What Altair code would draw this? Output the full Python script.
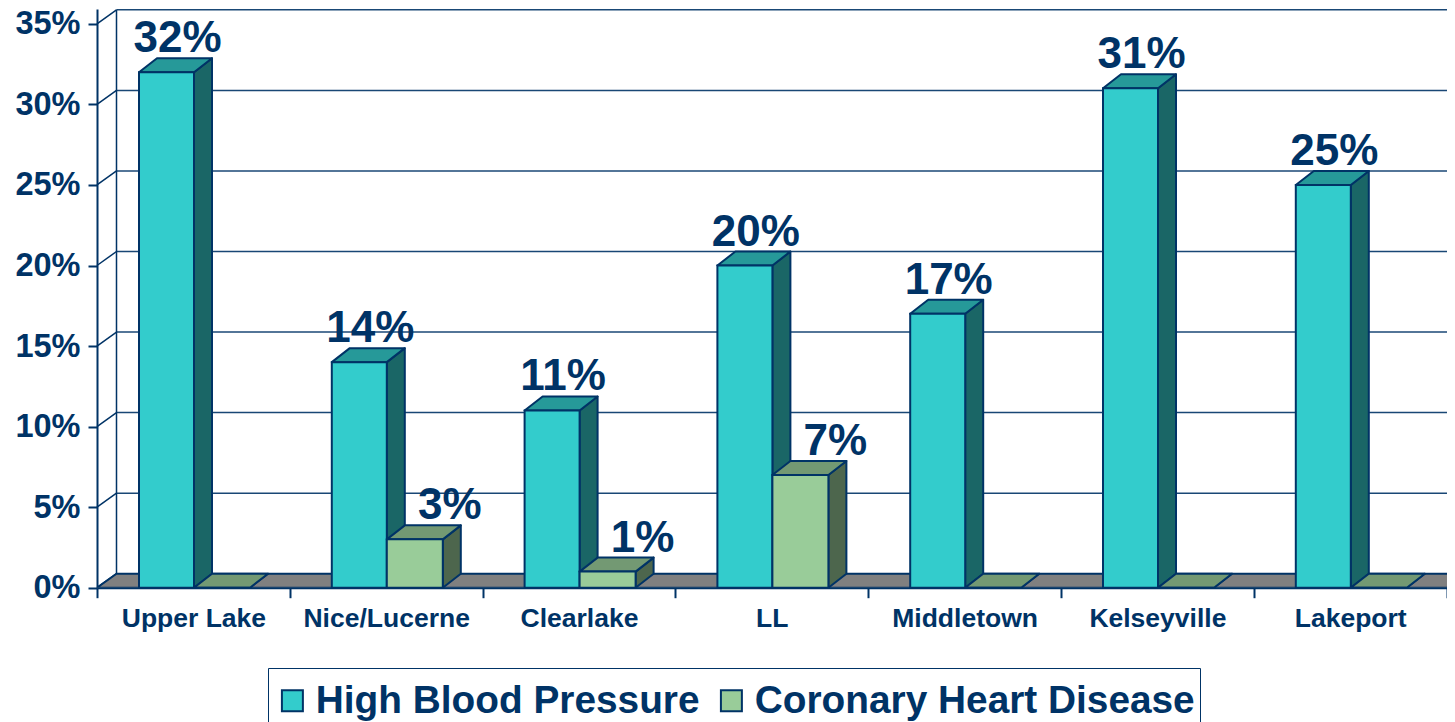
import altair as alt
import pandas as pd

categories = ["Upper Lake", "Nice/Lucerne", "Clearlake", "LL", "Middletown", "Kelseyville", "Lakeport"]
high_blood_pressure = [32, 14, 11, 20, 17, 31, 25]
coronary_heart_disease = [0, 3, 1, 7, 0, 0, 0]
series_names = ["High Blood Pressure", "Coronary Heart Disease"]
y_ticks = [0, 5, 10, 15, 20, 25, 30, 35]
x_ticks = [0, 1, 2, 3, 4, 5, 6, 7]

NAVY = "#003366"
FRONT = ["#33CCCC", "#99CC99"]
TOP = ["#269999", "#739973"]
SIDE = ["#1A6666", "#4D664D"]
FLOOR = "#808080"
FONT = "Liberation Sans"

# pixel geometry of the plot area
PX_CAT = 192.8
PX_PCT = 16.11
W = 1350
H = 578.7
x_scale = alt.Scale(domain=[0, W / PX_CAT], nice=False, zero=False)
y_scale = alt.Scale(domain=[0, H / PX_PCT], nice=False, zero=False)

# depth of the fake 3-D projection in data units
WALL_DX = 19.5 / PX_CAT
DEPTH_DX = 18 / PX_CAT
DEPTH_DY = 14 / PX_PCT
BAR_W = [55 / PX_CAT, 56 / PX_CAT]
BAR_START = 42 / PX_CAT

x_axis = alt.Axis(
    values=x_ticks, grid=False, tickSize=10, tickWidth=2, tickColor=NAVY, domainColor=NAVY, domainWidth=2,
    labelExpr="datum.value < 7 ? " + str(categories) + "[datum.value] : ''",
    labelOffset=PX_CAT / 2, labelFont=FONT, labelFontWeight="bold", labelFontSize=26.5, labelColor=NAVY,
    labelPadding=8, labelOverlap=False, labelFlush=False, labelBound=False, labelAlign="center", labelLimit=300,
    title=None,
)
y_axis = alt.Axis(
    values=y_ticks, grid=False, tickSize=9, tickWidth=2, tickColor=NAVY, domainColor=NAVY, domainWidth=2,
    labelExpr="datum.value + '%'", labelFont=FONT, labelFontWeight="bold", labelFontSize=32.5, labelColor=NAVY,
    labelPadding=8, labelOverlap=False, labelFlush=False, labelBound=False,
    title=None,
)


def X(f="x"):
    return alt.X(f"{f}:Q", scale=x_scale, axis=x_axis)


def Y(f="y"):
    return alt.Y(f"{f}:Q", scale=y_scale, axis=y_axis)


# walls and grid
grid = pd.DataFrame({"y": [t + DEPTH_DY for t in y_ticks], "x": WALL_DX, "x2": W / PX_CAT})
grid_layer = alt.Chart(grid).mark_rule(color=NAVY, strokeWidth=1.5, clip=True, opacity=0.9).encode(
    x=X("x"), x2="x2:Q", y=Y("y")
)

diag = pd.DataFrame({"x": 0.0, "x2": WALL_DX, "y": y_ticks, "y2": [t + DEPTH_DY for t in y_ticks]})
diag_layer = alt.Chart(diag).mark_rule(color=NAVY, strokeWidth=1.5).encode(
    x=X(), x2="x2:Q", y=Y(), y2="y2:Q"
)

wall = pd.DataFrame({"x": [WALL_DX], "y": [DEPTH_DY], "y2": [y_ticks[-1] + DEPTH_DY]})
wall_layer = alt.Chart(wall).mark_rule(color=NAVY, strokeWidth=1.5).encode(
    x=X(), y=Y(), y2="y2:Q"
)

floor = pd.DataFrame({"y": [0, DEPTH_DY], "x": [0, WALL_DX], "x2": [W / PX_CAT, W / PX_CAT + WALL_DX]})
floor_layer = alt.Chart(floor).mark_area(
    orient="horizontal", color=FLOOR, stroke=NAVY, strokeWidth=2, clip=True
).encode(x=X(), x2="x2:Q", y=Y())


def bar_frames(values, series):
    front, side, top = [], [], []
    for i, v in enumerate(values):
        x0 = i + BAR_START + (BAR_W[0] if series else 0)
        x1 = x0 + BAR_W[series]
        name = categories[i]
        front.append({"x": x0, "x2": x1, "y": v, "y2": 0, "series": series_names[series]})
        side += [
            {"id": name, "x": x1, "y": 0, "y2": v},
            {"id": name, "x": x1 + DEPTH_DX, "y": DEPTH_DY, "y2": v + DEPTH_DY},
        ]
        top += [
            {"id": name, "y": v, "x": x0, "x2": x1},
            {"id": name, "y": v + DEPTH_DY, "x": x0 + DEPTH_DX, "x2": x1 + DEPTH_DX},
        ]
    return pd.DataFrame(front), pd.DataFrame(side), pd.DataFrame(top)


color = alt.Color(
    "series:N",
    scale=alt.Scale(domain=series_names, range=FRONT),
    legend=alt.Legend(
        title=" ", titleFontSize=4, titlePadding=4, orient="none", legendX=171, legendY=659, direction="horizontal",
        symbolType="square", symbolSize=440, symbolStrokeColor=NAVY, symbolStrokeWidth=2,
        labelFont=FONT, labelFontWeight="bold", labelFontSize=38.8, labelColor=NAVY, labelLimit=600,
        labelOffset=4, columnPadding=12, padding=5, strokeColor=NAVY, fillColor="white",
    ),
)

bar_layers = []
for s, vals in enumerate([high_blood_pressure, coronary_heart_disease]):
    front, side, top = bar_frames(vals, s)
    bar_layers.append(
        alt.Chart(side).mark_area(color=SIDE[s], stroke=NAVY, strokeWidth=2, strokeJoin="round").encode(
            x=X(), y=Y(), y2="y2:Q", detail="id:N"
        )
    )
    bar_layers.append(
        alt.Chart(top).mark_area(orient="horizontal", color=TOP[s], stroke=NAVY, strokeWidth=2, strokeJoin="round").encode(
            x=X(), x2="x2:Q", y=Y(), detail="id:N"
        )
    )
    bar_layers.append(
        alt.Chart(front).mark_rect(stroke=NAVY, strokeWidth=2).encode(
            x=X(), x2="x2:Q", y=Y(), y2="y2:Q", color=color
        )
    )

label_layers = []
for s, vals in enumerate([high_blood_pressure, coronary_heart_disease]):
    rows = [
        {"x": i + BAR_START + (BAR_W[0] if s else 0) + BAR_W[s] / 2 + DEPTH_DX / 2, "y": v + DEPTH_DY, "t": f"{v}%"}
        for i, v in enumerate(vals) if v > 0
    ]
    label_layers.append(
        alt.Chart(pd.DataFrame(rows)).mark_text(
            font=FONT, fontWeight="bold", fontSize=44, color=NAVY, baseline="alphabetic",
            align="center", dy=-6, dx=2 if s == 0 else 26,
        ).encode(x=X(), y=Y(), text="t:N")
    )

chart = alt.layer(grid_layer, diag_layer, wall_layer, floor_layer, *bar_layers, *label_layers).properties(
    width=W, height=H,
    autosize=alt.AutoSizeParams(type="none"),
    padding={"left": 89, "top": 1, "right": 0, "bottom": 134.3},
    background="white",
).configure_view(stroke=None)

chart.save("out.html", embed_options={"renderer": "svg", "actions": False})
